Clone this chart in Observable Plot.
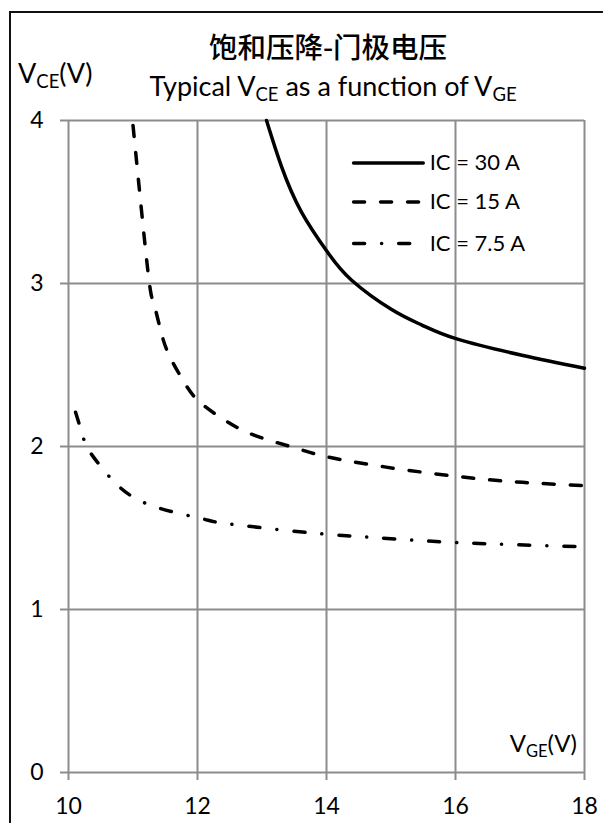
<!DOCTYPE html>
<html>
<head>
<meta charset="utf-8">
<script src="https://cdn.jsdelivr.net/npm/d3@7"></script>
<script src="https://cdn.jsdelivr.net/npm/@observablehq/plot@0.6"></script>
<style>
  html, body { margin: 0; padding: 0; background: #fff; overflow: hidden; width: 603px; height: 823px; }
  #wrap { position: relative; width: 603px; height: 823px; font-family: Lato, "Noto Sans", sans-serif; color: #000; }
  #frame { position: absolute; left: 9px; top: 11px; width: 700px; height: 900px; border: 2px solid #111; box-sizing: border-box; }
  .txt { position: absolute; white-space: nowrap; line-height: 1; }
  #title1 { left: 0; width: 656px; text-align: center; top: 32px; font-family: "Noto Sans CJK SC", sans-serif; font-size: 28.5px; font-weight: 500; }
  #title2 { left: 0; width: 666px; text-align: center; top: 72px; font-size: 27px; }
  #ylab { left: 18px; top: 59px; font-size: 27px; }
  #xlab { right: 26px; top: 731px; font-size: 24px; }
  sub { font-size: 18.5px; vertical-align: -5px; line-height: 0; }
  #xlab sub { font-size: 16.5px; }
  #chart { position: absolute; left: 0; top: 110px; }
</style>
</head>
<body>
<div id="wrap">
  <div id="frame"></div>
  <div class="txt" id="title1">饱和压降-门极电压</div>
  <div class="txt" id="title2">Typical V<sub>CE</sub> as a function of V<sub>GE</sub></div>
  <div class="txt" id="ylab">V<sub>CE</sub>(V)</div>
  <div id="chart"></div>
  <div class="txt" id="xlab">V<sub>GE</sub>(V)</div>
</div>
<script>
// Tick values
const xTicks = [10, 12, 14, 16, 18];
const yTicks = [0, 1, 2, 3, 4];

// IC = 30 A (solid)
const vge30 = [13.07, 13.30, 13.61, 14.02, 14.39, 15.01, 15.48, 16.02, 17.03, 18.0];
const vce30 = [4.0, 3.72, 3.44, 3.19, 3.02, 2.84, 2.745, 2.66, 2.56, 2.48];

// IC = 15 A (dashed)
const vge15 = [11.0, 11.23, 11.32, 11.43, 11.56, 11.77, 12.0, 12.37, 12.75, 13.18, 13.61, 14.03, 14.9, 16.05, 17.04, 18.0];
const vce15 = [3.97, 3.08, 2.88, 2.71, 2.56, 2.41, 2.285, 2.175, 2.09, 2.03, 1.98, 1.935, 1.875, 1.815, 1.78, 1.76];

// IC = 7.5 A (dash-dot)
const vge75 = [10.11, 10.24, 10.36, 10.81, 11.42, 12.09, 12.49, 13.77, 14.8, 16.05, 18.0];
const vce75 = [2.21, 2.04, 1.95, 1.745, 1.62, 1.555, 1.525, 1.47, 1.44, 1.41, 1.385];

// Legend labels and their rows (data space) inside the plot
const seriesLabels = ["IC = 30 A", "IC = 15 A", "IC = 7.5 A"];
const legendRowsY = [3.74, 3.50, 3.245];
const legendX = [14.42, 15.50, 15.60];

const styles = [
  {dash: null},
  {dash: "11,16"},
  {dash: "11,17,0.1,17"}
];
const xs = [vge30, vge15, vge75];
const ys = [vce30, vce15, vce75];

const marks = [
  Plot.gridX(xTicks, {stroke: "#8c8c8c", strokeOpacity: 1, strokeWidth: 2}),
  Plot.gridY(yTicks, {stroke: "#8c8c8c", strokeOpacity: 1, strokeWidth: 2}),
  Plot.axisX(xTicks, {tickSize: 8, tickPadding: 17, stroke: "#8c8c8c", strokeWidth: 2, fill: "#000", fontSize: 23, label: null, tickFormat: d => String(d)}),
  Plot.axisY(yTicks, {tickSize: 8, tickPadding: 17, stroke: "#8c8c8c", strokeWidth: 2, fill: "#000", fontSize: 23, label: null, tickFormat: d => String(d)})
];

xs.forEach((xv, i) => {
  const data = xv.map((x, j) => ({x, y: ys[i][j]}));
  const opts = {x: "x", y: "y", stroke: "#000", strokeWidth: 3.5, curve: "natural", strokeLinecap: "round"};
  if (styles[i].dash) opts.strokeDasharray = styles[i].dash;
  marks.push(Plot.line(data, opts));
  const leg = [{x: legendX[0], y: legendRowsY[i]}, {x: legendX[1], y: legendRowsY[i]}];
  const lopts = {x: "x", y: "y", stroke: "#000", strokeWidth: 3.5, strokeLinecap: "round"};
  if (styles[i].dash) lopts.strokeDasharray = styles[i].dash;
  marks.push(Plot.line(leg, lopts));
  marks.push(Plot.text([seriesLabels[i]], {x: legendX[2], y: legendRowsY[i], text: d => d, textAnchor: "start", fontSize: 22, fill: "#000"}));
});

const chart = Plot.plot({
  width: 603,
  height: 713,
  marginLeft: 68,
  marginRight: 19,
  marginTop: 10,
  marginBottom: 51,
  style: {fontFamily: "Lato, 'Noto Sans', sans-serif", background: "transparent", overflow: "visible"},
  x: {domain: [10, 18]},
  y: {domain: [0, 4]},
  marks
});
document.getElementById("chart").appendChild(chart);
</script>
</body>
</html>
